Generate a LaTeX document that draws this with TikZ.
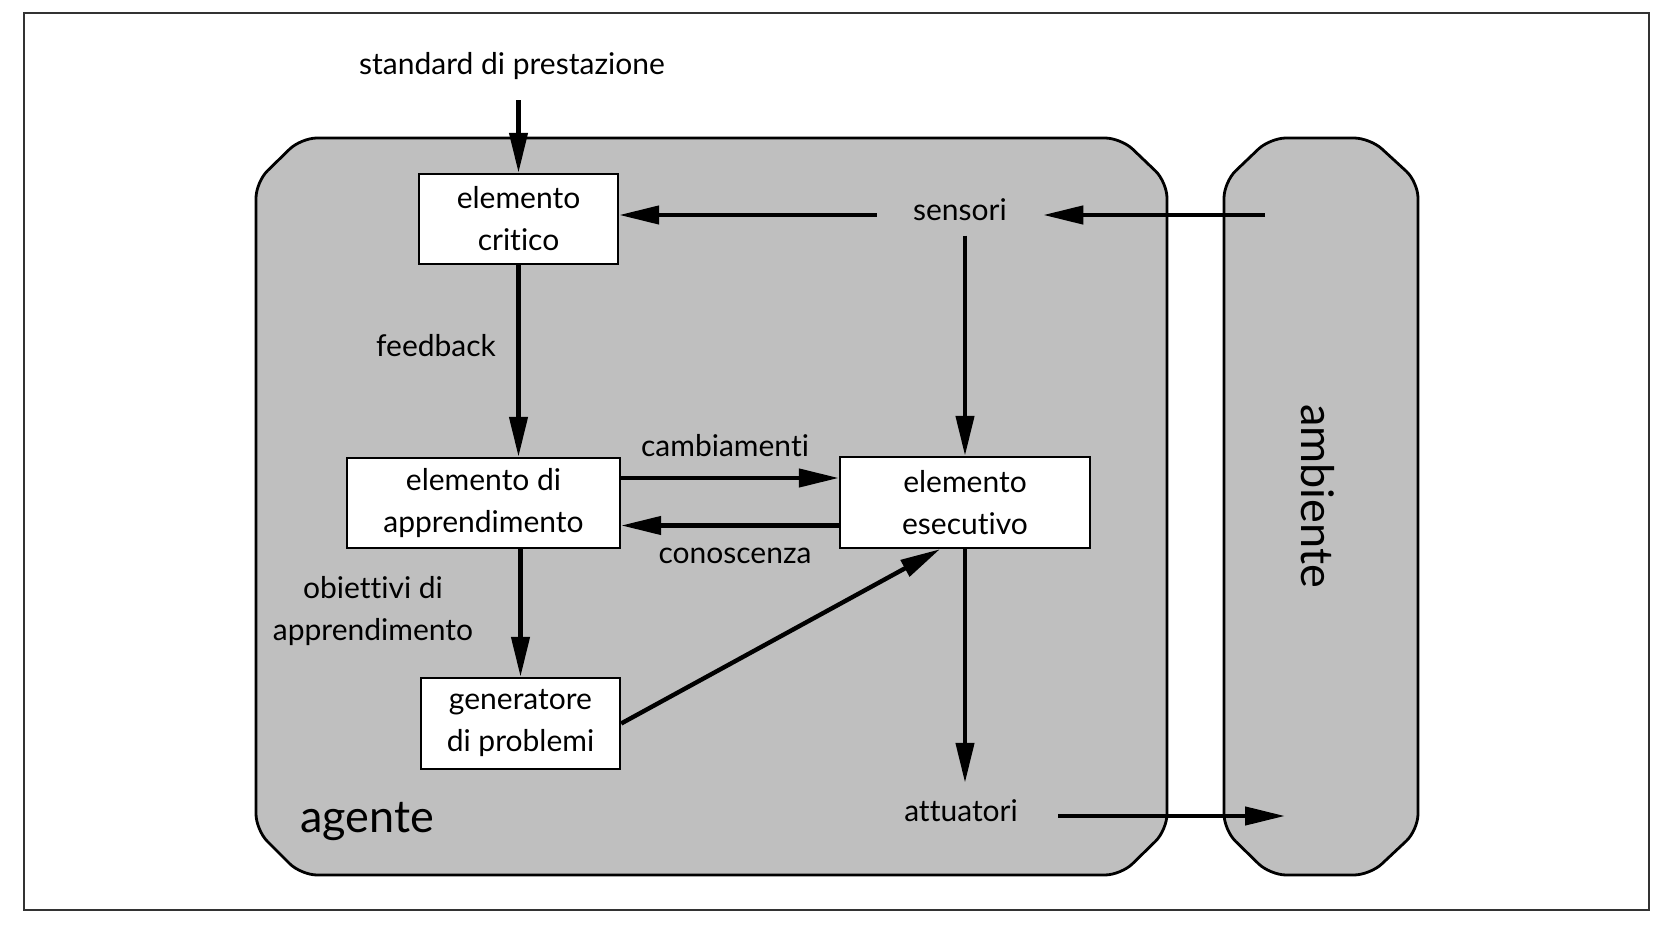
\documentclass[tikz,border=0pt]{standalone}
\usepackage{fontspec}
\setmainfont{Lato}[Ligatures=NoCommon]
\usetikzlibrary{arrows.meta}

\begin{document}
\begin{tikzpicture}[x=0.5pt, y=-0.5pt,
        every node/.style={font=\fontsize{15}{21}\selectfont},
        box/.style={rectangle, draw, fill=white, line width=1.2pt, align=center, inner sep=0pt},
        lbl/.style={align=center, inner sep=0pt},
        flow/.style={line width=2.2pt, -{Triangle[length=20pt, width=9pt]}},
        shell/.style={draw, fill=black!25, line width=1.4pt, rounded corners=8pt},
        big/.style={font=\fontsize{22.5}{26}\selectfont}]
        \useasboundingbox (0,0) rectangle (1662,930);
        \draw[line width=0.8pt, black!80] (24,13) rectangle (1649,910);

        % agente e ambiente
        \draw[shell] (256,182) -- (301,138) -- (1121,138) -- (1167,182) -- (1167,830) -- (1121,875) -- (301,875) -- (256,830) -- cycle;
        \draw[shell] (1224,182) -- (1270,138) -- (1370,138) -- (1418,182) -- (1418,830) -- (1370,875) -- (1270,875) -- (1224,830) -- cycle;

        \node[lbl, inner ysep=10pt] (stdNode) at (512,66) {standard di prestazione};
        \node[box, minimum width=99.5pt, minimum height=45pt] (critNode) at (518.5,219) {elemento\\critico};
        \node[lbl, anchor=mid, inner xsep=18pt, inner ysep=7.5pt] (sensNode) at (960,215) {sensori};
        \node[box, minimum width=136.5pt, minimum height=45pt] (apprNode) at (483.5,503) {elemento di\\apprendimento};
        \node[box, minimum width=125pt, minimum height=45.5pt] (esecNode) at (965,502.5) {elemento\\esecutivo};
        \node[box, minimum width=99.5pt, minimum height=45.5pt] (genNode) at (520.5,723.5) {generatore\\di problemi};
        \node[lbl, anchor=mid, inner xsep=20pt, inner ysep=8pt] (attNode) at (961,816) {attuatori};

        \node[lbl] (feedNode) at (436,346) {feedback};
        \node[lbl] (cambNode) at (725,446) {cambiamenti};
        \node[lbl] (conNode) at (735,556) {conoscenza};
        \node[lbl] (obiNode) at (373,611) {obiettivi di\\apprendimento};
        \node[lbl, big] (agNode) at (367,822) {agente};
        \node[lbl, big, rotate=-90] (ambNode) at (1318,496) {ambiente};

        \coordinate (ambIn) at (1265,215);
        \coordinate (ambOut) at (1285,816);
        \coordinate (cambL) at ([yshift=12.5pt]apprNode.east);
        \coordinate (conR) at ([yshift=-11.5pt]esecNode.west);

        \draw (stdNode.south -| critNode.north) edge[flow] (critNode.north);
        \draw (ambIn) edge[flow] (sensNode.mid east);
        \draw (sensNode.mid west) edge[flow] (sensNode.mid west -| critNode.east);
        \draw (sensNode.south -| esecNode.north) edge[flow] (esecNode.north);
        \draw (critNode.south) edge[flow] (critNode.south |- apprNode.north);
        \draw (cambL) edge[flow] (cambL -| esecNode.west);
        \draw (conR) edge[flow] (conR -| apprNode.east);
        \draw (genNode.north |- apprNode.south) edge[flow] (genNode.north);
        \draw (genNode.east) edge[flow] ([xshift=-12.5pt]esecNode.south);
        \draw (esecNode.south) edge[flow] (attNode.north -| esecNode.south);
        \draw (attNode.mid east) edge[flow] (ambOut);
\end{tikzpicture}
\end{document}
